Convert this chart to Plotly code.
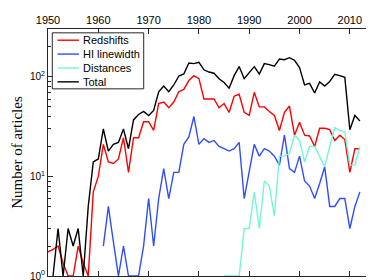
import plotly.graph_objects as go

# ---------------- data ----------------
series_names = ["Redshifts", "HI linewidth", "Distances", "Total"]

years_redshifts = list(range(1950, 2013))
redshifts = [1.75, 1.85, 2, 1.35, 1, 1, 2, 1.35, 1, 7,
             10, 21, 14, 13.5, 15, 24.5, 11, 24.5, 24.5, 35.5,
             35.5, 29, 54, 56, 49, 56, 71, 75, 92, 103,
             96, 60, 60, 60, 49, 54, 44, 64, 67, 44,
             41, 70, 50, 50, 45, 41, 29, 44, 51, 26,
             35, 26, 25.5, 20, 30.5, 30.5, 29.5, 23, 26, 23.5,
             11, 19, 19]

years_linewidth = list(range(1961, 2013))
linewidth = [2, 5, 2.2, 1, 2, 1, 1, 1, 2, 6,
             2, 6, 12, 6, 11, 11, 21, 25, 40, 21,
             24, 22, 23, 20, 19, 18, 19, 22, 6, 11,
             21, 16, 19, 18, 16, 13, 26, 12, 11, 16,
             9, 8, 6, 8.5, 12.5, 5, 5, 6, 6, 3,
             5, 7]

years_distances = list(range(1985, 2013))
distances = [1, 1, 1, 1, 3, 3, 7, 3, 9, 8,
             4, 16, 16, 17, 26, 23, 14, 20, 20, 16,
             12.5, 20, 31, 29, 28, 13, 13, 20]

years_total = list(range(1951, 2013))
total = [1, 3, 1, 3, 2, 3, 1, 5, 14, 15,
         30, 18, 21, 22, 30, 19, 37, 42, 45, 41,
         46, 71, 81, 71, 83, 102, 107, 138, 136, 140,
         118, 112, 109, 96, 88, 77, 103, 127, 96, 111,
         127, 107, 136, 133, 128, 151, 149, 156, 147, 124,
         83, 86, 69, 89, 81, 90, 106, 103, 99, 29.5,
         41, 36]

x_ticks = [1950, 1960, 1970, 1980, 1990, 2000, 2010]
y_ticks = [1, 10, 100]
y_ticktext = ["10<sup>0</sup>", "10<sup>1</sup>", "10<sup>2</sup>"]
y_minor = [2, 3, 4, 5, 6, 7, 8, 9, 20, 30, 40, 50, 60, 70, 80, 90, 200, 300]

colors = ["#ff0000", "#2f4dff", "#74f5d8", "#000000"]

# ---------------- figure ----------------
W, H = 374, 280
ML, MR, MT, MB = 40, 6, 15, 7
PW, PH = W - ML - MR, H - MT - MB

fig = go.Figure()
all_x = [years_redshifts, years_linewidth, years_distances, years_total]
all_y = [redshifts, linewidth, distances, total]
for name, xs, ys, c in zip(series_names, all_x, all_y, colors):
    fig.add_trace(go.Scatter(x=xs, y=ys, mode="lines", name=name,
                             line=dict(color=c, width=1.4),
                             showlegend=False))

axis_col = "#262626"
fig.update_layout(
    width=W, height=H,
    margin=dict(l=ML, r=MR, t=MT, b=MB, pad=0),
    paper_bgcolor="white", plot_bgcolor="white",
    font=dict(family="Liberation Sans, Arial, sans-serif", size=11, color="black"),
    xaxis=dict(range=[1950, 2015], side="top", tickmode="array", tickvals=x_ticks,
               ticks="inside", ticklen=5, tickcolor=axis_col, showline=True,
               linecolor=axis_col, linewidth=1, mirror="ticks", showgrid=False,
               zeroline=False, tickfont=dict(size=11)),
    yaxis=dict(type="log", range=[0, 2.4815], tickmode="array", tickvals=y_ticks,
               ticktext=y_ticktext, ticks="inside", ticklen=5, tickcolor=axis_col,
               showline=True, linecolor=axis_col, linewidth=1, mirror="ticks",
               showgrid=False, zeroline=False, tickfont=dict(size=10),
               minor=dict(tickmode="array", tickvals=y_minor, ticks="inside",
                          ticklen=3, tickcolor=axis_col, showgrid=False),
               title=dict(text="Number of articles",
                          font=dict(family="Liberation Serif, Times New Roman, serif", size=15),
                          standoff=3)),
)

# ---------------- legend (drawn as a boxed key) ----------------
def px_x(p):
    return (p - ML) / PW

def px_y(p):
    return 1 - (p - MT) / PH

fig.add_shape(type="rect", xref="paper", yref="paper",
              x0=px_x(44.3), x1=px_x(136), y0=px_y(19), y1=px_y(77.5),
              line=dict(color=axis_col, width=1), fillcolor="white", layer="above")
entry_y = [26.7, 41.2, 55.7, 70.2]
for name, c, ey in zip(series_names, colors, entry_y):
    fig.add_shape(type="line", xref="paper", yref="paper",
                  x0=px_x(49.5), x1=px_x(71), y0=px_y(ey), y1=px_y(ey),
                  line=dict(color=c, width=1.4), layer="above")
    fig.add_annotation(xref="paper", yref="paper", x=px_x(73.5), y=px_y(ey),
                       text=name, showarrow=False, xanchor="left", yanchor="middle",
                       font=dict(size=11, color="black"))

fig.write_html("out.html")
